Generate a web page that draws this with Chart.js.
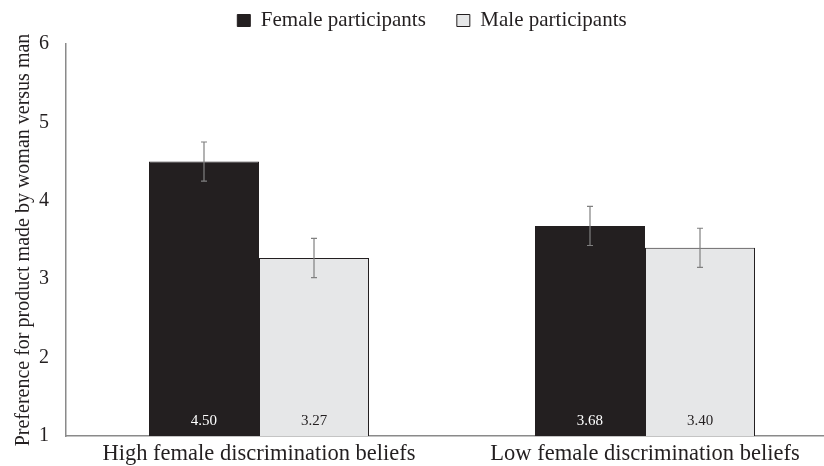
<!DOCTYPE html>
<html>
<head>
<meta charset="utf-8">
<script src="https://cdn.jsdelivr.net/npm/chart.js@4.4.1/dist/chart.umd.min.js"></script>
<style>
	html, body { margin: 0; padding: 0; background: #fff; overflow: hidden; }
	#wrap { position: relative; width: 840px; height: 466px; }
</style>
</head>
<body>
<div id="wrap"><canvas id="chart"></canvas></div>
<script>
"use strict";

const categories = ["High female discrimination beliefs", "Low female discrimination beliefs"];
const seriesNames = ["Female participants", "Male participants"];
const femaleMeans = [4.50, 3.68];
const maleMeans = [3.27, 3.40];
const femaleErr = [0.25, 0.25];
const maleErr = [0.25, 0.25];
const yTicks = [1, 2, 3, 4, 5, 6];

const FONT = "'Liberation Serif', 'Times New Roman', serif";

// error bars + value labels drawn through the chart's own scales
const extras = {
	id: "extras",
	afterInit(chart) {
		// a bit more room under the legend
		if (chart.legend) {
			const fit = chart.legend.fit;
			chart.legend.fit = function () {
				fit.call(this);
				this.height += 3;
			};
		}
	},
	afterLayout(chart) {
		// legend sits a little right of the canvas centre
		if (chart.legend) chart.legend.left += 26;
	},
	afterDatasetsDraw(chart) {
		const { ctx } = chart;
		const y = chart.scales.y;
		const errs = [femaleErr, maleErr];
		chart.data.datasets.forEach((ds, di) => {
			chart.getDatasetMeta(di).data.forEach((bar, i) => {
				const v = ds.data[i];
				const e = errs[di][i];
				const top = y.getPixelForValue(v + e);
				const bot = y.getPixelForValue(v - e);
				ctx.save();
				ctx.strokeStyle = "#808080";
				ctx.lineWidth = 1.2;
				ctx.beginPath();
				ctx.moveTo(bar.x, top);
				ctx.lineTo(bar.x, bot);
				ctx.moveTo(bar.x - 3, top);
				ctx.lineTo(bar.x + 3, top);
				ctx.moveTo(bar.x - 3, bot);
				ctx.lineTo(bar.x + 3, bot);
				ctx.stroke();
				ctx.fillStyle = di === 0 ? "#ffffff" : "#231f20";
				ctx.font = "15px " + FONT;
				ctx.textAlign = "center";
				ctx.textBaseline = "middle";
				ctx.fillText(v.toFixed(2), bar.x, y.getPixelForValue(1) - 15);
				ctx.restore();
			});
		});
	},
};

new Chart(document.getElementById("chart"), {
	type: "bar",
	data: {
		labels: categories,
		datasets: [
			{
				label: seriesNames[0],
				data: femaleMeans,
				backgroundColor: "#231f20",
				borderColor: "#231f20",
				borderWidth: 1,
			},
			{
				label: seriesNames[1],
				data: maleMeans,
				backgroundColor: "#e6e7e8",
				borderColor: "#231f20",
				borderWidth: 1,
			},
		],
	},
	options: {
		responsive: true,
		maintainAspectRatio: false,
		animation: false,
		layout: { padding: { left: 0, right: 2, top: 0, bottom: 0 } },
		datasets: { bar: { categoryPercentage: 0.57, barPercentage: 1 } },
		scales: {
			x: {
				afterFit(scale) {
					scale.height = 30;
				},
				grid: { display: false, drawTicks: false },
				border: { display: true, color: "#8a8a8a", width: 1.5 },
				ticks: { color: "#231f20", font: { family: FONT, size: 22.5 }, padding: 5, maxRotation: 0 },
			},
			y: {
				min: 1,
				max: 6,
				afterFit(scale) {
					scale.width = 66;
				},
				afterBuildTicks(scale) {
					scale.ticks = yTicks.map((v) => ({ value: v }));
				},
				grid: { display: false, drawTicks: false },
				border: { display: true, color: "#8a8a8a", width: 1.5 },
				ticks: { color: "#231f20", font: { family: FONT, size: 20 }, padding: 17 },
				title: {
					display: true,
					text: "Preference for product made by woman versus man",
					color: "#231f20",
					font: { family: FONT, size: 20 },
					padding: { top: 12, bottom: 0 },
				},
			},
		},
		plugins: {
			legend: {
				position: "top",
				labels: {
					color: "#231f20",
					font: { family: FONT, size: 21 },
					boxWidth: 13,
					boxHeight: 12,
					padding: 10,
					generateLabels(chart) {
						const items = Chart.defaults.plugins.legend.labels.generateLabels(chart);
						items[0].text = items[0].text + "    ";
						return items;
					},
				},
			},
			tooltip: { enabled: false },
		},
	},
	plugins: [extras],
});
</script>
</body>
</html>
